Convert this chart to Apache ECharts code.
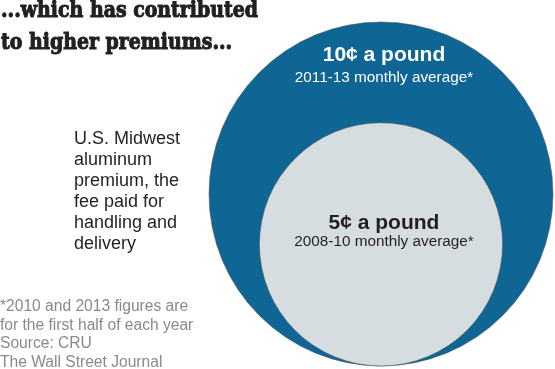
<!DOCTYPE html>
<html><head><meta charset="utf-8">
<script src="https://cdn.jsdelivr.net/npm/echarts@6/dist/echarts.min.js"></script>
<style>html,body{margin:0;padding:0;background:#fff}#c{width:555px;height:369px}</style>
</head><body><div id="c"></div>
<script>
// ---- data ----
const periods = ['2011-13', '2008-10'];
const premiumCents = [10, 5];
const valueLabels = ['10¢ a pound', '5¢ a pound'];
const subLabels = ['2011-13 monthly average*', '2008-10 monthly average*'];
const titleLines = ['...which has contributed', 'to higher premiums...'];
const descLines = ['U.S. Midwest', 'aluminum', 'premium, the', 'fee paid for', 'handling and', 'delivery'];
const noteLines = ['*2010 and 2013 figures are', 'for the first half of each year', 'Source: CRU', 'The Wall Street Journal'];

// ---- styles ----
const circleStyles = [
  {fill: '#0f6593', stroke: 'rgba(70,80,90,0.55)', text: '#ffffff', off1: 33.5, off2: 55.5},
  {fill: '#d6dde1', stroke: 'rgba(70,80,90,0.55)', text: '#231f20', off1: 100, off2: 119.5}
];

const maxR = Math.sqrt(Math.max(...premiumCents));
const chart = echarts.init(document.getElementById('c'), null, {renderer: 'canvas'});

// measure title to fit condensed slab look
const titleFont = 'bold 23px "DejaVu Serif"';
const mctx = document.createElement('canvas').getContext('2d');
mctx.font = titleFont;
const titleScale = 257 / mctx.measureText(titleLines[0]).width;

const option = {
  backgroundColor: '#ffffff',
  animation: false,
  grid: {left: 209, top: 22, width: 344, height: 344},
  xAxis: {type: 'value', min: -maxR, max: maxR, show: false},
  yAxis: {type: 'value', min: 0, max: 2 * maxR, show: false},
  series: [{
    type: 'custom',
    coordinateSystem: 'cartesian2d',
    data: premiumCents.map((v, i) => ({name: periods[i], value: [0, Math.sqrt(v), v]})),
    encode: {x: 0, y: 1},
    renderItem: function (params, api) {
      const i = params.dataIndex;
      const r = api.value(1);
      const c = api.coord([api.value(0), r]);
      const rp = api.size([0, r])[1];
      const st = circleStyles[i];
      const top = c[1] - rp;
      return {
        type: 'group',
        children: [
          {type: 'circle', shape: {cx: c[0], cy: c[1], r: rp},
           style: {fill: st.fill, stroke: st.stroke, lineWidth: 1}},
          {type: 'text', x: c[0] + 3, y: top + st.off1,
           style: {text: valueLabels[i], fill: st.text, font: 'bold 21px Arial, "Liberation Sans", sans-serif',
                   align: 'center', verticalAlign: 'middle'}},
          {type: 'text', x: c[0] + 3, y: top + st.off2,
           style: {text: subLabels[i], fill: st.text, font: '15.3px Arial, "Liberation Sans", sans-serif',
                   align: 'center', verticalAlign: 'middle'}}
        ]
      };
    }
  }],
  graphic: [
    {type: 'text', x: 1, y: 11, scaleX: titleScale, originX: 0,
     style: {text: titleLines[0], font: titleFont, fill: '#231f20', stroke: '#231f20', lineWidth: 1.1, verticalAlign: 'middle'}},
    {type: 'text', x: 1, y: 43.5, scaleX: titleScale, originX: 0,
     style: {text: titleLines[1], font: titleFont, fill: '#231f20', stroke: '#231f20', lineWidth: 1.1, verticalAlign: 'middle'}},
    {type: 'text', x: 74, y: 129,
     style: {text: descLines.join('\n'), font: '18px Arial, "Liberation Sans", sans-serif', lineHeight: 21,
             fill: '#231f20', verticalAlign: 'top'}},
    {type: 'text', x: 0, y: 297.5,
     style: {text: noteLines.join('\n'), font: '15.6px Arial, "Liberation Sans", sans-serif', lineHeight: 18.5,
             fill: '#8a8a8a', verticalAlign: 'top'}}
  ]
};
chart.setOption(option);
</script>
</body></html>
